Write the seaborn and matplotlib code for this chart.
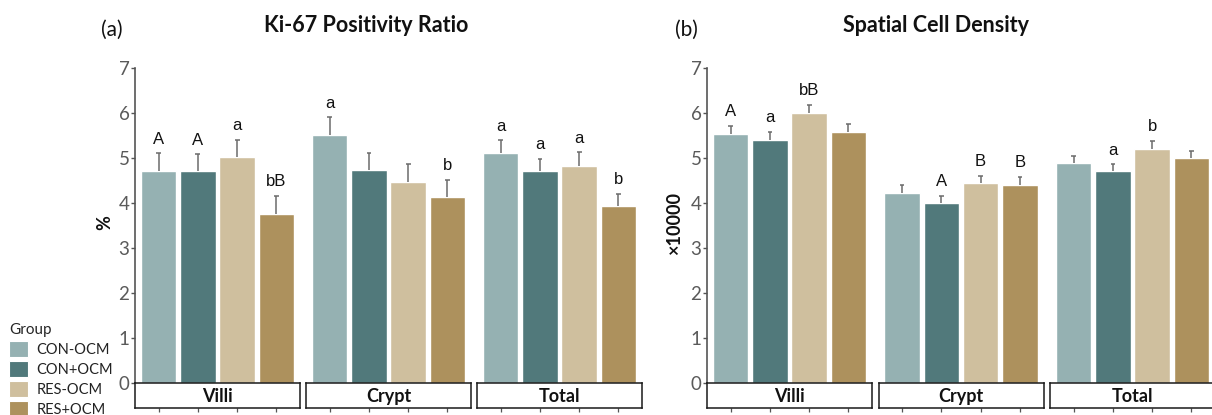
import matplotlib
matplotlib.use("Agg")
import matplotlib.pyplot as plt
from matplotlib.patches import Patch
import numpy as np
import pandas as pd
import seaborn as sns

# ---- data -------------------------------------------------------------
groups = ["CON-OCM", "CON+OCM", "RES-OCM", "RES+OCM"]
regions = ["Villi", "Crypt", "Total"]
colors = ["#95b1b2", "#51797b", "#cfbf9e", "#ad915d"]

# Ki-67 positivity ratio (%), mean and SE per region
ki67_villi = [4.71, 4.71, 5.02, 3.75]
ki67_villi_se = [0.39, 0.37, 0.39, 0.41]
ki67_crypt = [5.50, 4.73, 4.47, 4.13]
ki67_crypt_se = [0.40, 0.37, 0.39, 0.39]
ki67_total = [5.11, 4.70, 4.83, 3.93]
ki67_total_se = [0.28, 0.28, 0.30, 0.28]
ki67_letters = [["A", "A", "a", "bB"],
                ["a", "", "", "b"],
                ["a", "a", "a", "b"]]

# Spatial cell density (x10000), mean and SE per region
dens_villi = [5.54, 5.41, 6.00, 5.58]
dens_villi_se = [0.18, 0.17, 0.18, 0.18]
dens_crypt = [4.23, 4.01, 4.44, 4.41]
dens_crypt_se = [0.16, 0.15, 0.17, 0.17]
dens_total = [4.88, 4.71, 5.21, 5.00]
dens_total_se = [0.17, 0.15, 0.17, 0.16]
dens_letters = [["A", "a", "bB", ""],
                ["", "A", "B", "B"],
                ["", "a", "b", ""]]

panels = [
    dict(tag="(a)", title="Ki-67 Positivity Ratio", ylabel="%",
         means=[ki67_villi, ki67_crypt, ki67_total],
         ses=[ki67_villi_se, ki67_crypt_se, ki67_total_se],
         letters=ki67_letters, x0=135, step=171, tag_x=112, title_x=366,
         ylabel_x=105),
    dict(tag="(b)", title="Spatial Cell Density", ylabel="\u00d710000",
         means=[dens_villi, dens_crypt, dens_total],
         ses=[dens_villi_se, dens_crypt_se, dens_total_se],
         letters=dens_letters, x0=707, step=171.5, tag_x=686, title_x=936,
         ylabel_x=675),
]

# ---- figure -----------------------------------------------------------
sns.set_theme(style="white")
plt.rcParams["font.family"] = ["Lato", "DejaVu Sans"]

W, H = 1212, 415
fig = plt.figure(figsize=(W / 100, H / 100), dpi=100)

panel_top, panel_bot, strip_bot = 68, 383, 408
facet_w = 165
palette = dict(zip(groups, colors))
tick_grey = "#5a5a5a"

for p in panels:
    for i, region in enumerate(regions):
        left = p["x0"] + i * p["step"]
        ax = fig.add_axes([left / W, 1 - panel_bot / H, facet_w / W,
                           (panel_bot - panel_top) / H])
        df = pd.DataFrame({"group": groups, "value": p["means"][i],
                           "se": p["ses"][i]})
        sns.barplot(data=df, x="group", y="value", hue="group",
                    palette=palette, order=groups, hue_order=groups,
                    width=0.9, errorbar=None, edgecolor="white",
                    linewidth=1.0, saturation=1, legend=False, ax=ax,
                    zorder=2)
        xs = np.arange(len(groups))
        tops = df["value"] + df["se"]
        ax.vlines(xs, df["value"], tops, color="#6b6b6b", lw=1.1, zorder=3)
        ax.hlines(tops, xs - 0.06, xs + 0.06, color="#6b6b6b", lw=1.1,
                  zorder=3)
        for xk, yk, lab in zip(xs, tops, p["letters"][i]):
            if lab:
                ax.annotate(lab, (xk, yk), xytext=(0, 6.8),
                            textcoords="offset points", ha="center",
                            va="baseline", fontsize=12,
                            family=["Liberation Sans", "DejaVu Sans"],
                            color="#111111")
        ax.set_xlim(-0.6, 3.6)
        ax.set_ylim(0, 7)
        ax.set_xlabel("")
        ax.set_ylabel("")
        ax.set_xticks([])
        for s in ["top", "right", "bottom"]:
            ax.spines[s].set_visible(False)
        if i == 0:
            ax.spines["left"].set_color("#555555")
            ax.spines["left"].set_linewidth(1.2)
            ax.set_yticks(range(8))
            ax.tick_params(axis="y", direction="out", length=3, width=1,
                           color="#555555", labelsize=13.5,
                           labelcolor=tick_grey, pad=1, left=True)
        else:
            ax.spines["left"].set_visible(False)
            ax.set_yticks([])

        # strip with region name beneath each facet
        sax = fig.add_axes([left / W, 1 - strip_bot / H, facet_w / W,
                            (strip_bot - panel_bot) / H])
        sax.set_xlim(-0.6, 3.6)
        sax.set_ylim(0, 1)
        sax.set_yticks([])
        sax.set_xticks(xs)
        sax.set_xticklabels([])
        sax.tick_params(axis="x", direction="out", length=3, width=0.9,
                        color="#555555", bottom=True)
        for s in sax.spines.values():
            s.set_visible(True)
            s.set_color("#1a1a1a")
            s.set_linewidth(1.1)
        sax.set_facecolor("white")
        sax.text(0.5, 0.45, region, transform=sax.transAxes, ha="center",
                 va="center", fontsize=13, fontweight="bold", color="#111111")

    fig.text(p["tag_x"] / W, 1 - 30 / H, p["tag"], ha="center", va="center",
             fontsize=15, color="#111111")
    fig.text(p["title_x"] / W, 1 - 25 / H, p["title"], ha="center",
             va="center", fontsize=15.5, fontweight="bold", color="#111111")
    fig.text(p["ylabel_x"] / W, 1 - 223 / H, p["ylabel"], ha="center",
             va="center", rotation=90, fontsize=13, fontweight="bold",
             color="#111111")

handles = [Patch(facecolor=c, edgecolor="white", linewidth=0.8) for c in colors]
leg = fig.legend(handles, groups, title="Group", loc="upper left",
                 bbox_to_anchor=(9 / W, 1 - 323 / H), frameon=False,
                 fontsize=10.5, title_fontsize=11, handlelength=1.3,
                 handleheight=1.25, labelspacing=0.3, handletextpad=0.6,
                 borderpad=0, borderaxespad=0, alignment="left")
for t in leg.get_texts():
    t.set_color("#222222")

fig.savefig("out.png", dpi=100, facecolor="white")
